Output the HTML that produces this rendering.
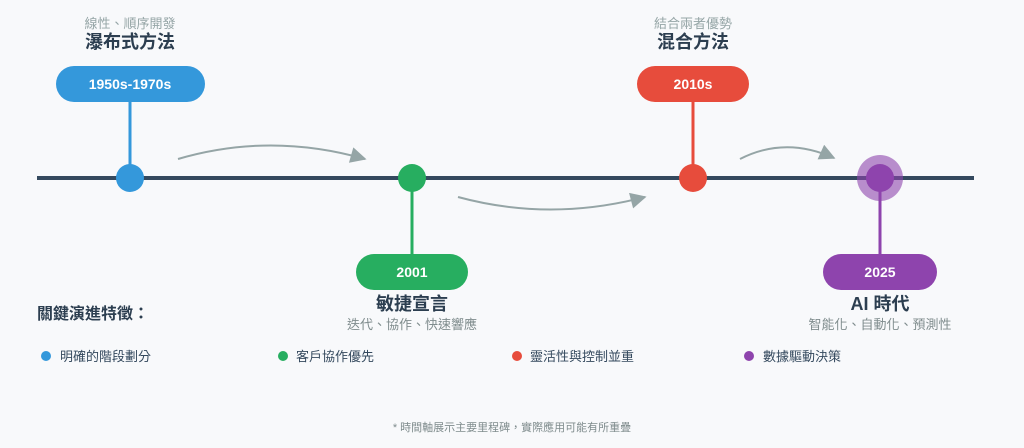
<!DOCTYPE html>
<html><head><meta charset="utf-8"><style>
html,body{margin:0;padding:0;background:#f8f9fb;}
svg{display:block;font-family:"Liberation Sans","Noto Sans CJK TC",sans-serif;}
</style></head><body>
<svg width="1024" height="448" viewBox="0 0 1024 448" xmlns="http://www.w3.org/2000/svg">
<rect width="1024" height="448" fill="#f8f9fb"/>
<defs>
<marker id="ah2" viewBox="0 0 10 10" refX="9" refY="5" markerWidth="20" markerHeight="16" orient="auto" markerUnits="userSpaceOnUse"><path d="M0,0 L10,5 L0,10 z" fill="#95a5a6"/></marker></defs>
<line x1="37" y1="178" x2="974" y2="178" stroke="#34495e" stroke-width="4"/>
<path d="M178,159 Q270,132 365,159" fill="none" stroke="#95a5a6" stroke-width="2" marker-end="url(#ah2)"/>
<path d="M458,197 Q550,222 645,197" fill="none" stroke="#95a5a6" stroke-width="2" marker-end="url(#ah2)"/>
<path d="M740,159 Q785,136 834,158" fill="none" stroke="#95a5a6" stroke-width="2" marker-end="url(#ah2)"/>
<line x1="130" y1="102" x2="130" y2="178" stroke="#3498db" stroke-width="3"/>
<rect x="56" y="66" width="149" height="36" rx="18" fill="#3498db"/>
<text x="130" y="89" text-anchor="middle" fill="#fff" font-size="14" font-weight="bold">1950s-1970s</text>
<circle cx="130" cy="178" r="14" fill="#3498db"/>
<text x="130" y="28" text-anchor="middle" fill="#95a5a6" font-size="13">線性、順序開發</text>
<text x="130" y="48" text-anchor="middle" fill="#2c3e50" font-size="18" font-weight="bold">瀑布式方法</text>
<line x1="412" y1="178" x2="412" y2="254" stroke="#27ae60" stroke-width="3"/>
<circle cx="412" cy="178" r="14" fill="#27ae60"/>
<rect x="356" y="254" width="112" height="36" rx="18" fill="#27ae60"/>
<text x="412" y="277" text-anchor="middle" fill="#fff" font-size="14" font-weight="bold">2001</text>
<text x="412" y="310" text-anchor="middle" fill="#2c3e50" font-size="18" font-weight="bold">敏捷宣言</text>
<text x="412" y="329" text-anchor="middle" fill="#7f8c8d" font-size="13">迭代、協作、快速響應</text>
<line x1="693" y1="102" x2="693" y2="178" stroke="#e74c3c" stroke-width="3"/>
<rect x="637" y="66" width="112" height="36" rx="18" fill="#e74c3c"/>
<text x="693" y="89" text-anchor="middle" fill="#fff" font-size="14" font-weight="bold">2010s</text>
<circle cx="693" cy="178" r="14" fill="#e74c3c"/>
<text x="693" y="28" text-anchor="middle" fill="#95a5a6" font-size="13">結合兩者優勢</text>
<text x="693" y="48" text-anchor="middle" fill="#2c3e50" font-size="18" font-weight="bold">混合方法</text>
<line x1="880" y1="178" x2="880" y2="254" stroke="#8e44ad" stroke-width="3"/>
<circle cx="880" cy="178" r="23" fill="#8e44ad" opacity="0.6"/>
<circle cx="880" cy="178" r="14" fill="#8e44ad"/>
<rect x="823" y="254" width="114" height="36" rx="18" fill="#8e44ad"/>
<text x="880" y="277" text-anchor="middle" fill="#fff" font-size="14" font-weight="bold">2025</text>
<text x="880" y="310" text-anchor="middle" fill="#2c3e50" font-size="18" font-weight="bold">AI 時代</text>
<text x="880" y="329" text-anchor="middle" fill="#7f8c8d" font-size="13">智能化、自動化、預測性</text>
<text x="37" y="319" fill="#2c3e50" font-size="16" font-weight="bold">關鍵演進特徵：</text>
<circle cx="46" cy="356" r="5" fill="#3498db"/><text x="60" y="361" fill="#34495e" font-size="13">明確的階段劃分</text>
<circle cx="283" cy="356" r="5" fill="#27ae60"/><text x="296" y="361" fill="#34495e" font-size="13">客戶協作優先</text>
<circle cx="517" cy="356" r="5" fill="#e74c3c"/><text x="530" y="361" fill="#34495e" font-size="13">靈活性與控制並重</text>
<circle cx="749" cy="356" r="5" fill="#8e44ad"/><text x="763" y="361" fill="#34495e" font-size="13">數據驅動決策</text>
<text x="512" y="431" text-anchor="middle" fill="#7f8c8d" font-size="11">* 時間軸展示主要里程碑，實際應用可能有所重疊</text>
</svg>
</body></html>
